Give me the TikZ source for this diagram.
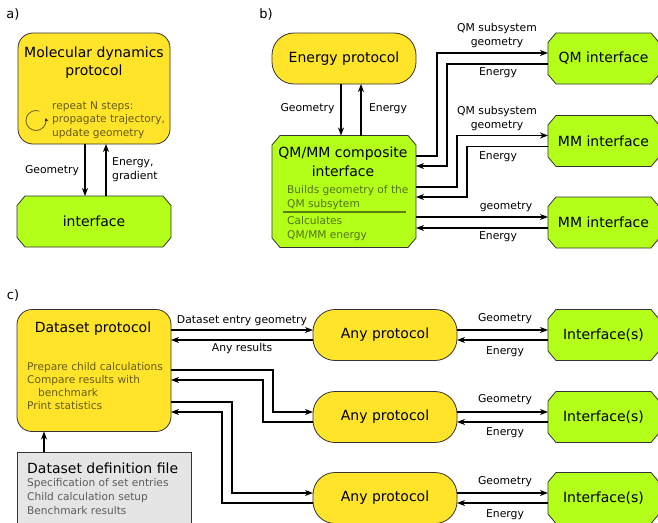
\documentclass[tikz,border=0pt]{standalone}
\usepackage{fontspec}
\setmainfont{DejaVu Sans}
\usetikzlibrary{arrows.meta}
\definecolor{yel}{HTML}{FFE42A}
\definecolor{grn}{HTML}{B3FF1A}
\definecolor{filebg}{HTML}{E5E5E5}
\tikzset{
  box/.style={draw=black!80, line width=0.8pt, inner sep=0pt, outer sep=0pt},
  rbox/.style={box, fill=yel, rectangle, rounded corners=15pt},
  pill/.style={box, fill=yel, rectangle, rounded corners=22pt, font=\fontsize{14}{18}\selectfont},
  oct/.style={draw=black!80, line width=0.8pt, fill=grn},
  ibox/.style={rectangle, inner sep=0pt, outer sep=0pt, font=\fontsize{14}{18}\selectfont},
  fbox/.style={box, fill=filebg, rectangle},
  ttl/.style={inner sep=0pt, font=\fontsize{14}{18.5}\selectfont, align=center},
  note/.style={inner sep=0pt, font=\fontsize{10.6}{13.3}\selectfont, align=left, text=black, text opacity=0.6},
  lbl/.style={inner sep=0pt, font=\fontsize{10.8}{14}\selectfont, align=center},
  plbl/.style={inner sep=0pt, font=\fontsize{13}{16}\selectfont},
  arr/.style={line width=1.3pt, -{Stealth[length=8pt,width=6pt,inset=2.5pt]}},
}
% name, cx, cy, w, h, text
\newcommand\octbox[6]{%
  \draw[oct] (#2-#4/2+8, #3-#5/2) -- (#2+#4/2-8, #3-#5/2) -- (#2+#4/2, #3-#5/2+9.5)
    -- (#2+#4/2, #3+#5/2-9.5) -- (#2+#4/2-8, #3+#5/2) -- (#2-#4/2+8, #3+#5/2)
    -- (#2-#4/2, #3+#5/2-9.5) -- (#2-#4/2, #3-#5/2+9.5) -- cycle;
  \node[ibox, minimum width=#4pt, minimum height=#5pt] (#1) at (#2,#3) {#6};
}
\begin{document}
\begin{tikzpicture}[x=1pt,y=-1pt]
\clip (0,0) rectangle (658,522);
\fill[white] (0,0) rectangle (658,522);
% ---------- panel a ----------
\node[plbl] (pa) at (13,14) {a)};
\node[rbox, minimum width=152pt, minimum height=111pt] (md) at (94,88.5) {};
\node[ttl] (mdt) at (94,62.5) {Molecular dynamics\\protocol};
\node[note, anchor=west] (mdn) at (52,120) {repeat N steps:\\propagate trajectory,\\update geometry};
\coordinate (cyc) at (36,120.5);
\draw[line width=0.8pt, draw opacity=0.6, -{Stealth[length=4pt,width=4pt]}] ([shift={(70:10pt)}]cyc) arc[start angle=70, end angle=375, radius=10pt];
\octbox{ia}{94}{221.5}{154}{51}{interface}
\draw[arr] ([xshift=-9pt]md.south) -- ([xshift=-9pt]ia.north);
\draw[arr] ([xshift=12pt]ia.north) -- ([xshift=12pt]md.south);
\node[lbl] (ga) at (52,171) {Geometry};
\node[lbl, anchor=west, align=left] (ea) at (112,170) {Energy,\\gradient};
% ---------- panel b ----------
\node[plbl] (pb) at (266,14) {b)};
\node[pill, minimum width=144pt, minimum height=51pt] (ep) at (344,58.5) {Energy protocol};
\octbox{qmmm}{344}{191.5}{144}{112}{}
\node[ttl] (qmt) at (343,162) {QM/MM composite\\interface};
\node[note, anchor=west, text opacity=0.55] (qmn1) at (287,197.5) {Builds geometry of the\\QM subsytem};
\node[note, anchor=west, text opacity=0.55] (qmn2) at (287,228.5) {Calculates\\QM/MM energy};
\draw[line width=1.5pt, draw=black, draw opacity=0.5] (283,212) -- (406,212);
\draw[arr] ([xshift=-3pt]ep.south) -- ([xshift=-3pt]qmmm.north);
\draw[arr] ([xshift=17pt]qmmm.north) -- ([xshift=17pt]ep.south);
\node[lbl] (gb) at (307.5,109) {Geometry};
\node[lbl] (eb) at (388,109) {Energy};
\octbox{qm}{603.5}{58.5}{111}{51}{QM interface}
\octbox{mm1}{603.5}{141}{111}{51}{MM interface}
\octbox{mm2}{603.5}{222.5}{111}{51}{MM interface}
\draw[arr] ([yshift=35.5pt]qmmm.east) -- (437,156) |- ([yshift=5.5pt]qm.west);
\draw[arr] ([yshift=-5.5pt]qm.west) -- (447,64) |- ([yshift=25.5pt]qmmm.east);
\draw[arr] ([yshift=4.5pt]qmmm.east) -- (457,187) |- ([yshift=5.5pt]mm1.west);
\draw[arr] ([yshift=-5.5pt]mm1.west) -- (467,146.5) |- ([yshift=-5.5pt]qmmm.east);
\draw[arr] ([yshift=-25.5pt]qmmm.east) -- ([yshift=5.5pt]mm2.west);
\draw[arr] ([yshift=-5.5pt]mm2.west) -- ([yshift=-36.5pt]qmmm.east);
\node[lbl] (lb1) at (497,36) {QM subsystem\\geometry};
\node[lbl] (lb2) at (498,73) {Energy};
\node[lbl] (lb3) at (497,118.5) {QM subsystem\\geometry};
\node[lbl] (lb4) at (498,157) {Energy};
\node[lbl] (lb5) at (506,207) {geometry};
\node[lbl] (lb6) at (498,237) {Energy};
% ---------- panel c ----------
\node[plbl] (pc) at (13,295) {c)};
\node[rbox, minimum width=154pt, minimum height=122pt] (ds) at (94,370.5) {};
\node[ttl] (dst) at (93,329) {Dataset protocol};
\node[note, anchor=west] (dsn) at (27,386) {Prepare child calculations\\Compare results with\\\hspace*{11pt}benchmark\\Print statistics};
\node[fbox, minimum width=174pt, minimum height=80pt] (file) at (104,492) {};
\node[ttl, anchor=west] (filet) at (27,468) {Dataset definition file};
\node[note, anchor=west, align=left, font=\fontsize{10.6}{14}\selectfont] (filen) at (27,497) {Specification of set entries\\Child calculation setup\\Benchmark results};
\draw[arr] ([xshift=-60pt]file.north) -- ([xshift=-50pt]ds.south);
\node[pill, minimum width=144pt, minimum height=51pt] (a1) at (385,335) {Any protocol};
\node[pill, minimum width=144pt, minimum height=51pt] (a2) at (385,417) {Any protocol};
\node[pill, minimum width=144pt, minimum height=51pt] (a3) at (385,498) {Any protocol};
\octbox{i1}{603.5}{335}{111}{51}{Interface(s)}
\octbox{i2}{603.5}{417}{111}{51}{Interface(s)}
\octbox{i3}{603.5}{498}{111}{51}{Interface(s)}
\draw[arr] ([yshift=40.5pt]ds.east) -- ([yshift=5pt]a1.west);
\draw[arr] ([yshift=-5pt]a1.west) -- ([yshift=30.5pt]ds.east);
\draw[arr] ([yshift=0.5pt]ds.east) -- (273,370) |- ([yshift=5pt]a2.west);
\draw[arr] ([yshift=-5pt]a2.west) -- (263,422) |- ([yshift=-9.5pt]ds.east);
\draw[arr] ([yshift=-31.5pt]ds.east) -- (232,402) |- ([yshift=5pt]a3.west);
\draw[arr] ([yshift=-5pt]a3.west) -- (222,503) |- ([yshift=-41.5pt]ds.east);
\foreach \a/\i in {a1/i1,a2/i2,a3/i3}{
  \draw[arr] ([yshift=5pt]\a.east) -- ([yshift=5pt]\i.west);
  \draw[arr] ([yshift=-5pt]\i.west) -- ([yshift=-5pt]\a.east);
}
\node[lbl] (lc1) at (242,321) {Dataset entry geometry};
\node[lbl] (lc2) at (242,349) {Any results};
\node[lbl] (lg1) at (505,319) {Geometry};
\node[lbl] (le1) at (505,352) {Energy};
\node[lbl] (lg2) at (505,400) {Geometry};
\node[lbl] (le2) at (505,433) {Energy};
\node[lbl] (lg3) at (505,482) {Geometry};
\node[lbl] (le3) at (505,515) {Energy};
\end{tikzpicture}
\end{document}
